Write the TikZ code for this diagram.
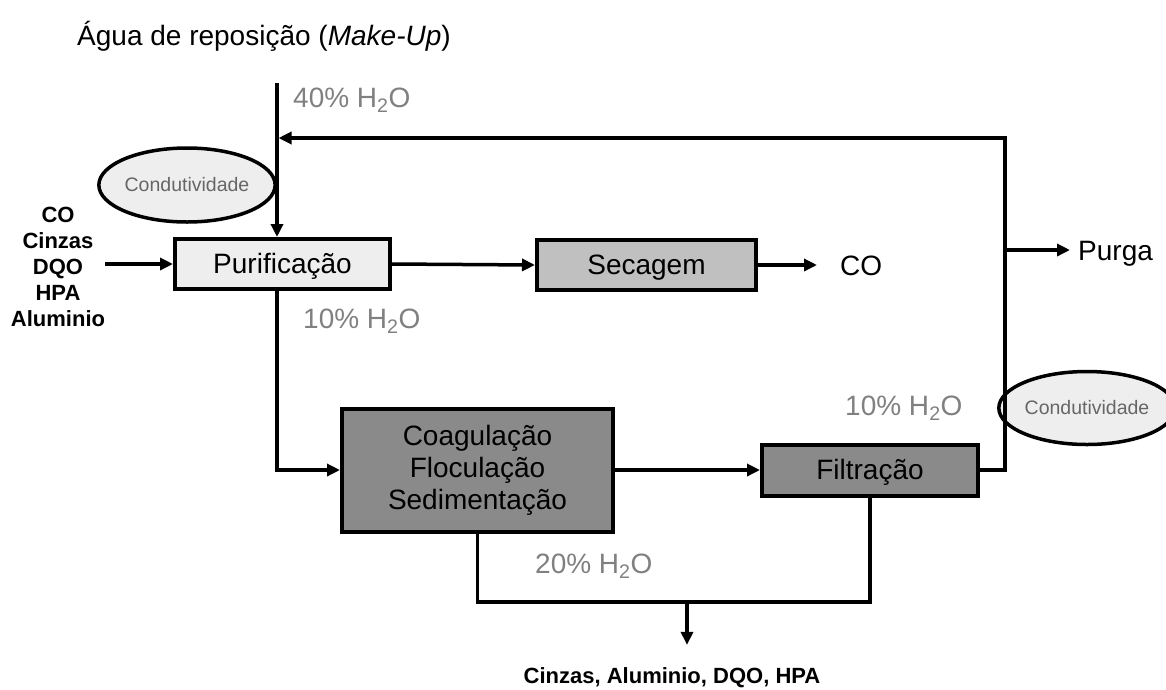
\documentclass[tikz,border=0pt]{standalone}
\usepackage{fontspec}
\setmainfont{Liberation Sans}
\usetikzlibrary{arrows.meta,shapes.geometric}
\definecolor{boxlight}{HTML}{EEEEEE}
\definecolor{boxmid}{HTML}{C0C0C0}
\definecolor{boxdark}{HTML}{8A8A8A}
\definecolor{labelgray}{HTML}{808080}

\begin{document}
\begin{tikzpicture}[x=1pt, y=-1pt,
    unit/.style={draw=black, line width=4pt, minimum height=50pt, inner sep=0pt, font=\fontsize{28}{32}\selectfont},
    oneline/.style={text height=20pt, text depth=2pt},
    sensor/.style={ellipse, draw=black, line width=3.5pt, fill=boxlight, inner sep=0pt, text=black!60, font=\fontsize{19.5}{22}\selectfont},
    flow/.style={line width=3.5pt, -{Triangle[length=13pt,width=12pt]}},
    pipe/.style={line width=3.5pt},
    pct/.style={text=labelgray, font=\fontsize{28}{32}\selectfont, anchor=base west, inner sep=0pt},
    txt/.style={font=\fontsize{28}{32}\selectfont, anchor=base west, inner sep=0pt},
    species/.style={font=\bfseries\fontsize{22}{26}\selectfont, inner sep=0pt, align=center}]

    \useasboundingbox (0,0) rectangle (1166,689);

    % Process units
    \node[unit, oneline, fill=boxlight, minimum width=215pt] (pur) at (282.5,264) {Purificação};
    \node[unit, oneline, fill=boxmid, minimum width=219pt] (sec) at (646.5,265) {Secagem};
    \node[unit, fill=boxdark, minimum width=271pt, minimum height=123pt, align=center] (coag) at (477.5,470) {Coagulação\\Floculação\\Sedimentação};
    \node[unit, oneline, fill=boxdark, minimum width=216pt, minimum height=51pt] (filt) at (870,470) {Filtração};

    % Conductivity sensors
    \node[sensor, minimum width=168pt, minimum height=74pt] (cond1) at (187,185) {Condutividade};
    \node[sensor, minimum width=158pt, minimum height=73pt] (cond2) at (1087,408) {Condutividade};

    % Streams in and out
    \node[txt] (title) at (77,45) {Água de reposição (\textit{Make-Up})};
    \node[species] (feed) at (58,267) {CO\\Cinzas\\DQO\\HPA\\Aluminio};
    \node[txt] (co) at (840,275) {CO};
    \node[txt] (purga) at (1078,260) {Purga};
    \node[species, anchor=base] (waste) at (672,683) {Cinzas, Aluminio, DQO, HPA};

    % Water fractions
    \node[pct] (w40) at (293,107) {40\% H\textsubscript{2}O};
    \node[pct] (w10a) at (303,328) {10\% H\textsubscript{2}O};
    \node[pct] (w10b) at (845,415) {10\% H\textsubscript{2}O};
    \node[pct] (w20) at (535,573) {20\% H\textsubscript{2}O};

    \coordinate (mk) at (277,83);
    \coordinate (ret) at (1005,138);
    \coordinate (bleed) at (1005,250);
    \coordinate (sludge) at (687,602);

    % Make-up water and recycle
    \draw[flow] (mk) -- (mk |- pur.north);
    \draw[flow, shorten >=1.5pt] (filt.east) -| (ret) -- (mk |- ret);
    \draw[flow, shorten >=8pt] (bleed) -- (bleed -| purga.west);

    % Main line
    \draw[flow] (feed.east |- pur.west) -- (pur.west);
    \draw[flow] (pur.east) -- (sec.west);
    \draw[flow, shorten >=23pt] (sec.east) -- (sec.east -| co.west);
    \draw[flow] (mk |- pur.south) |- (coag.west);
    \draw[flow] (coag.east) -- (filt.west);

    % Sludge
    \draw[pipe] (coag.south) |- (sludge) -| (filt.south);
    \draw[flow, shorten >=22pt] (sludge) -- (sludge |- waste.north);
\end{tikzpicture}
\end{document}
